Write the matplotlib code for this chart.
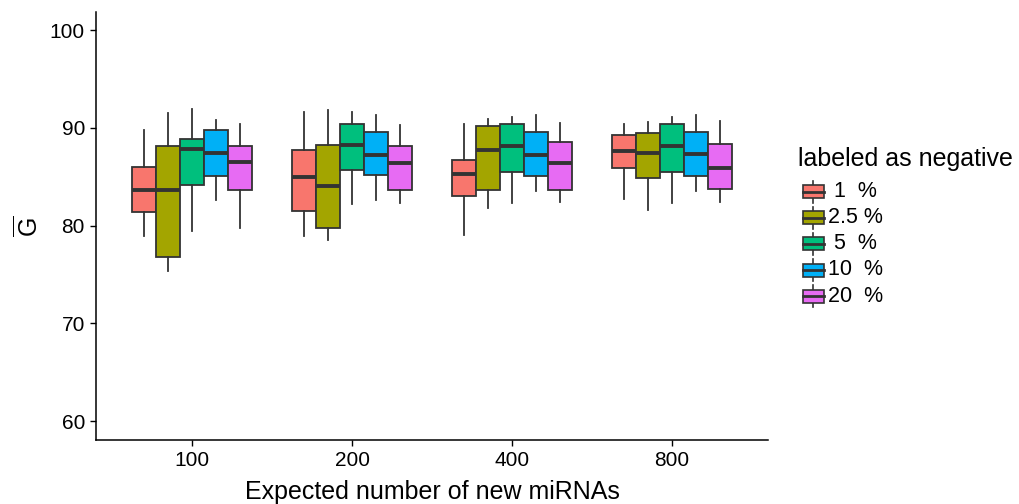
import matplotlib
matplotlib.use("Agg")
import matplotlib.pyplot as plt
from matplotlib.legend_handler import HandlerBase
from matplotlib.patches import Rectangle
from matplotlib.lines import Line2D

plt.rcParams["font.family"] = ["Liberation Sans", "DejaVu Sans"]
plt.rcParams["mathtext.fontset"] = "custom"
plt.rcParams["mathtext.rm"] = "Liberation Sans"

# ── Data ──────────────────────────────────────────────────────────────
groups = ["100", "200", "400", "800"]
series = [" 1  %", "2.5 %", " 5  %", "10  %", "20  %"]
colors = ["#F8766D", "#A3A500", "#00BF7D", "#00B0F6", "#E76BF3"]

# per series: rows = groups, values = (whislo, q1, med, q3, whishi)
s1 = [(78.9, 81.4, 83.6, 86.0, 89.8), (78.9, 81.5, 85.0, 87.7, 91.6),
      (79.0, 83.0, 85.3, 86.7, 90.4), (82.7, 85.9, 87.6, 89.3, 90.4)]
s2_5 = [(75.4, 76.8, 83.6, 88.1, 91.5), (78.5, 79.7, 84.0, 88.2, 91.8),
        (81.8, 83.6, 87.7, 90.2, 90.9), (81.6, 84.9, 87.4, 89.5, 90.6)]
s5 = [(79.4, 84.1, 87.8, 88.9, 91.9), (82.2, 85.7, 88.2, 90.4, 91.6),
      (82.3, 85.5, 88.1, 90.4, 91.1), (82.3, 85.5, 88.1, 90.4, 91.1)]
s10 = [(82.6, 85.1, 87.4, 89.8, 90.8), (82.6, 85.2, 87.2, 89.6, 91.3),
       (83.5, 85.1, 87.2, 89.6, 91.3), (83.5, 85.1, 87.3, 89.6, 91.3)]
s20 = [(79.8, 83.6, 86.5, 88.1, 90.4), (82.3, 83.6, 86.4, 88.1, 90.3),
       (82.4, 83.6, 86.4, 88.5, 90.5), (82.4, 83.7, 85.9, 88.3, 90.7)]
all_series = [s1, s2_5, s5, s10, s20]

EDGE = "#333333"

fig = plt.figure(figsize=(10.19, 5.04), dpi=100)
ax = fig.add_axes([0.0942, 0.127, 0.6595, 0.849])

box_w = 0.75 / len(series)
for si, (vals, col) in enumerate(zip(all_series, colors)):
    stats = [dict(whislo=v[0], q1=v[1], med=v[2], q3=v[3], whishi=v[4], fliers=[])
             for v in vals]
    pos = [gi + 1 - 0.375 + box_w * (si + 0.5) for gi in range(len(groups))]
    ax.bxp(stats, positions=pos, widths=box_w, showcaps=False, patch_artist=True,
           boxprops=dict(facecolor=col, edgecolor=EDGE, linewidth=1.3),
           medianprops=dict(color=EDGE, linewidth=2.8, solid_capstyle="butt"),
           whiskerprops=dict(color=EDGE, linewidth=1.3), manage_ticks=False)

ax.set_xlim(0.4, 4.6)
ax.set_ylim(58.06, 101.84)
ax.set_xticks(range(1, len(groups) + 1))
ax.set_xticklabels(groups)
ax.set_yticks([60, 70, 80, 90, 100])
ax.tick_params(labelsize=15, length=4, width=1, colors="black", pad=4)
for s in ["top", "right"]:
    ax.spines[s].set_visible(False)
for s in ["left", "bottom"]:
    ax.spines[s].set_linewidth(1.1)
ax.set_xlabel("Expected number of new miRNAs", fontsize=18, labelpad=7)
ax.set_ylabel(r"$\overline{\mathrm{G}}$", fontsize=18, labelpad=5)


# ── Legend with little boxplot keys ───────────────────────────────────
class BoxHandler(HandlerBase):
    def create_artists(self, legend, orig, xd, yd, w, h, fontsize, trans):
        x0 = xd + w * 0.2
        bw = w * 0.8
        cx = x0 + bw / 2
        rect = Rectangle((x0, yd), bw, h, facecolor=orig.get_facecolor(),
                         edgecolor=EDGE, linewidth=1.2, transform=trans)
        wl = Line2D([cx, cx], [yd - h * 0.35, yd + h * 1.35], color=EDGE,
                    linewidth=1.2, transform=trans)
        ml = Line2D([x0, x0 + bw], [yd + h / 2, yd + h / 2], color=EDGE,
                    linewidth=2, transform=trans)
        return [wl, rect, ml]


handles = [Rectangle((0, 0), 1, 1, facecolor=c) for c in colors]
fig.legend(handles, series, handler_map={Rectangle: BoxHandler()},
           title="labeled as negative", loc="upper left",
           bbox_to_anchor=(0.783, 0.708), frameon=False, fontsize=15.5,
           title_fontsize=18, handlelength=1.2, handleheight=0.55,
           handletextpad=0.2, labelspacing=0.24, borderaxespad=0,
           borderpad=0, alignment="left")
fig.legends[0]._legend_box.sep = 7

fig.savefig("out.png", dpi=100)
